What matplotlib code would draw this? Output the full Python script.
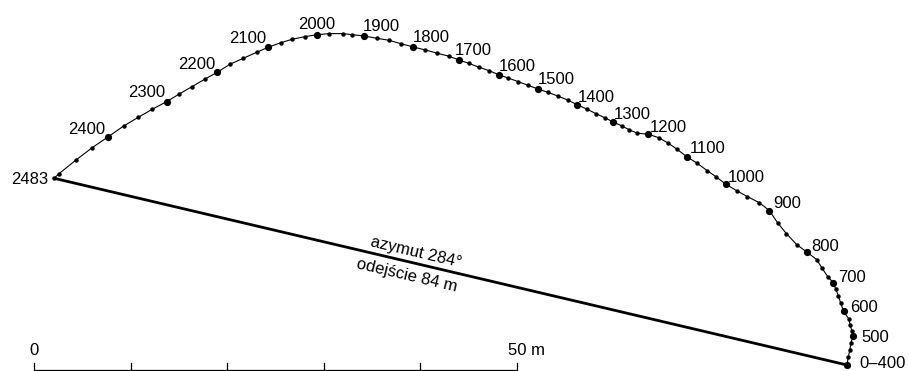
import numpy as np
import matplotlib
matplotlib.use('Agg')
import matplotlib.pyplot as plt

plt.rcParams['font.family'] = ['Liberation Sans', 'DejaVu Sans']

# Survey stations: measured depth (m) and horizontal position (m, east / north of wellhead)
depth = [400, 425, 450, 475, 500, 525, 550, 575, 600, 625, 650, 675, 700, 725, 750, 775,
         800, 825, 850, 875, 900, 925, 950, 975, 1000, 1025, 1050, 1075, 1100, 1125, 1150, 1175,
         1200, 1225, 1250, 1275, 1300, 1325, 1350, 1375, 1400, 1425, 1450, 1475, 1500, 1525,
         1550, 1575, 1600, 1625, 1650, 1675, 1700, 1725, 1750, 1775, 1800, 1825, 1850, 1875,
         1900, 1925, 1950, 1975, 2000, 2025, 2050, 2075, 2100, 2125, 2150, 2175, 2200, 2225,
         2250, 2275, 2300, 2325, 2350, 2375, 2400, 2425, 2450, 2475, 2483]
east = [0.00, 0.13, 0.29, 0.41, 0.62, 0.49, 0.34, 0.16, -0.36, -0.67, -0.90, -1.17, -1.42,
        -2.00, -2.56, -3.14, -4.17, -5.21, -6.28, -7.19, -8.04, -9.08, -10.32, -11.42, -12.53,
        -13.56, -14.46, -15.50, -16.59, -17.63, -18.53, -19.49, -20.55, -21.74, -22.54, -23.34,
        -24.25, -25.08, -25.98, -26.95, -27.95, -28.91, -29.95, -30.98, -31.99, -33.02, -34.03,
        -35.09, -36.06, -37.06, -38.10, -39.16, -40.17, -41.20, -42.41, -43.65, -44.90, -46.20,
        -47.41, -48.69, -50.00, -51.21, -52.21, -53.59, -54.83, -56.11, -57.42, -58.62, -59.91,
        -61.11, -62.49, -63.87, -65.19, -66.49, -67.81, -69.12, -70.43, -71.92, -73.36, -74.88,
        -76.47, -78.13, -79.85, -81.57, -82.09]
north = [0.00, 0.78, 1.55, 2.28, 3.00, 3.57, 4.14, 4.81, 5.59, 6.47, 7.19, 7.87, 8.52, 9.16,
         9.99, 10.92, 11.70, 12.47, 13.61, 14.73, 15.99, 16.80, 17.44, 18.04, 18.71, 19.49,
         20.11, 20.88, 21.56, 22.36, 22.98, 23.53, 23.88, 24.00, 24.35, 24.76, 25.18, 25.60,
         26.01, 26.50, 26.95, 27.43, 27.85, 28.23, 28.57, 28.95, 29.33, 29.71, 30.05, 30.47,
         30.82, 31.23, 31.57, 31.96, 32.27, 32.61, 32.92, 33.26, 33.61, 33.82, 34.06, 34.19,
         34.30, 34.30, 34.19, 33.99, 33.72, 33.36, 32.89, 32.37, 31.75, 31.13, 30.30, 29.58,
         28.81, 28.05, 27.26, 26.47, 25.64, 24.74, 23.63, 22.50, 21.19, 19.80, 19.33]

# Depth labels (text, station depth) and their placement offsets in pixels
label_text = ['0\u2013400', '500', '600', '700', '800', '900', '1000', '1100', '1200', '1300',
              '1400', '1500', '1600', '1700', '1800', '1900', '2000', '2100', '2200', '2300',
              '2400', '2483']
label_depth = [400, 500, 600, 700, 800, 900, 1000, 1100, 1200, 1300, 1400, 1500, 1600, 1700,
               1800, 1900, 2000, 2100, 2200, 2300, 2400, 2483]
label_dx = [12, 22, 20.5, 19, 18.5, 18, 20.5, 20.5, 20, 19.5, 19.5, 18.5, 18.5, 14, 18, 17.5,
            -0.5, -20.5, -21, -20, -21.5, -6]
label_dy = [-2.8, -5.7, -0.7, 1, 1.3, 2.2, 2.6, 3.4, 2.3, 2.8, 2.7, 5, 3.7, 5, 5, 5, 5.7, 4.3,
            3.3, 4.7, 2.7, -5.7]
label_ha = ['left'] + ['center'] * 20 + ['right']

azimuth_text = 'azymut 284\u00b0'
departure_text = 'odejście 84 m'
scale_len = 50
scale_step = 10

fig = plt.figure(figsize=(9.09, 3.71), dpi=100)
ax = fig.add_axes([0, 0, 1, 1])
ax.set_xlim(-87.68, 6.42)
ax.set_ylim(-0.62, 37.78)
ax.axis('off')

depth_a = np.array(depth)
east_a = np.array(east)
north_a = np.array(north)

# departure line from wellhead to bottom hole
ax.plot([east_a[0], east_a[-1]], [north_a[0], north_a[-1]], color='black', lw=2.0,
        solid_capstyle='butt', zorder=2)

# trajectory
ax.plot(east_a, north_a, color='black', lw=0.8, zorder=3)
small = depth_a % 100 != 0
ax.plot(east_a[small], north_a[small], 'o', color='black', ms=3.2, mew=0, zorder=4)
ax.plot(east_a[~small], north_a[~small], 'o', color='black', ms=5.2, mew=0, zorder=4)

fs = 12
for t, d, dx, dy, ha in zip(label_text, label_depth, label_dx, label_dy, label_ha):
    i = depth.index(d)
    ax.annotate(t, (east_a[i], north_a[i]), xytext=(dx, dy), textcoords='offset pixels',
                ha=ha, va='baseline', fontsize=fs, color='black')

# rotated annotation along the departure line
ang = np.degrees(np.arctan2(north_a[-1] - north_a[0], east_a[-1] - east_a[0])) - 180.0
th = np.radians(-ang)
nx, ny = np.sin(th), np.cos(th)
for txt, frac, off, va in [(azimuth_text, 0.5465, 6.0, 'baseline'),
                           (departure_text, 0.551, -6.4, 'top')]:
    px = east_a[0] + frac * (east_a[-1] - east_a[0])
    py = north_a[0] + frac * (north_a[-1] - north_a[0])
    ax.annotate(txt, (px, py), xytext=(nx * off, ny * off), textcoords='offset pixels',
                ha='center', va=va, rotation=ang, rotation_mode='anchor', fontsize=fs)

# scale bar
sx0, sy = -84.16, -0.52
ax.plot([sx0, sx0 + scale_len], [sy, sy], color='black', lw=0.9, solid_capstyle='butt')
for k in range(0, scale_len + 1, scale_step):
    ax.plot([sx0 + k, sx0 + k], [sy, sy + 0.73], color='black', lw=0.9)
ax.text(sx0, 1.04, '0', ha='center', va='baseline', fontsize=fs)
ax.text(sx0 + scale_len - 0.9, 1.04, '50 m', ha='left', va='baseline', fontsize=fs)

fig.savefig('out.png', dpi=100)
